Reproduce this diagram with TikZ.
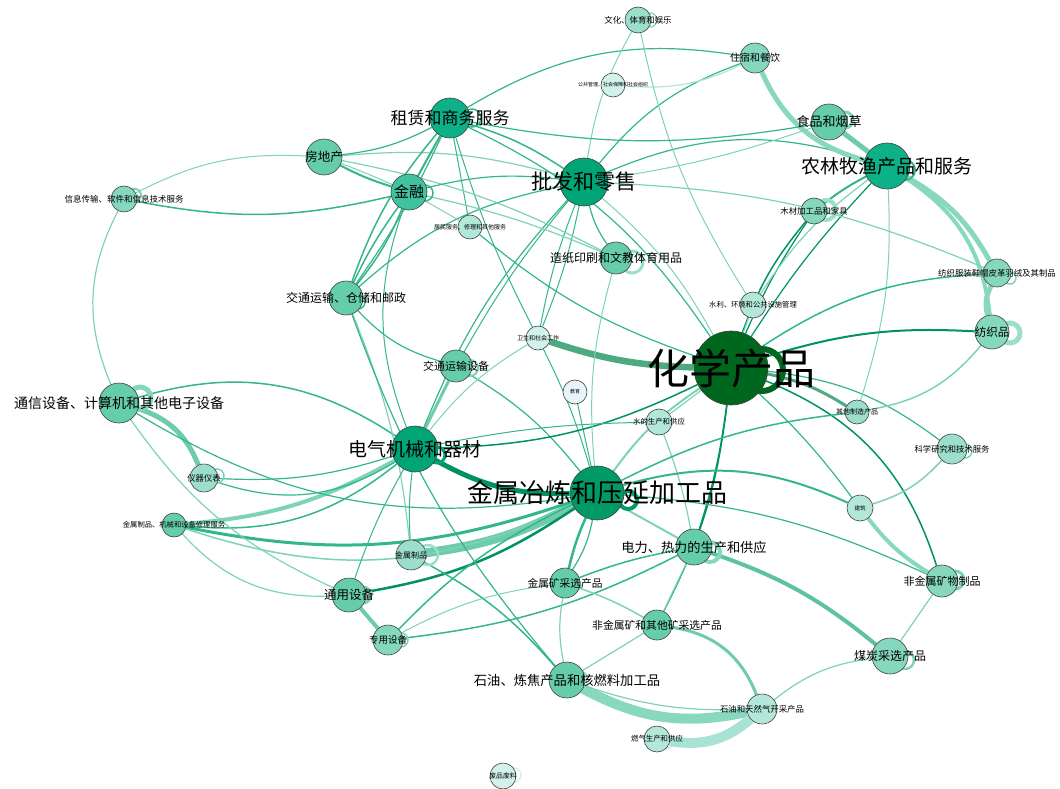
\documentclass[tikz,border=0pt]{standalone}
\usepackage{fontspec}
\setmainfont{Noto Sans CJK SC}
\usetikzlibrary{backgrounds}

% node fills
\definecolor{c0}{HTML}{00681E}
\definecolor{c1}{HTML}{009B64}
\definecolor{c2}{HTML}{00A576}
\definecolor{c3}{HTML}{0CB188}
\definecolor{c4}{HTML}{40C29E}
\definecolor{c5}{HTML}{66CDAA}
\definecolor{c6}{HTML}{85D7BE}
\definecolor{c7}{HTML}{9BDECC}
\definecolor{c8}{HTML}{B2E7DA}
\definecolor{c9}{HTML}{D2F1EA}
\definecolor{ce}{HTML}{E8F4FA}
% link colours
\definecolor{dk}{HTML}{00935F}
\definecolor{md}{HTML}{33B78A}
\definecolor{lt}{HTML}{7CD3B8}
\definecolor{pl}{HTML}{B0E5D6}
\definecolor{bnA}{HTML}{4DAA80}
\definecolor{bnB}{HTML}{6ECCAB}
\definecolor{bnC}{HTML}{88D8BF}
\definecolor{bnD}{HTML}{A8E2D4}
\definecolor{bnE}{HTML}{5CC39E}

\def\sectors{
  hx/731/368/74/c0/42/化学产品,
  ye/597/493/54/c1/26/金属冶炼和压延加工品,
  pf/584/182/48/c2/21/批发和零售,
  nl/887/166/46/c3/19/农林牧渔产品和服务,
  dq/415/449/46/c2/19/电气机械和器材,
  zl/450/118/40/c3/17/租赁和商务服务,
  jr/409/192/36/c4/15/金融,
  fd/324/157/36/c5/12.5/房地产,
  xx/124/199/26/c6/8.5/信息传输、软件和信息技术服务,
  jt/346/298/34/c5/12/交通运输、仓储和邮政,
  jm/470/227/24/c8/6/居民服务、修理和其他服务,
  zz/616/258/32/c5/12/造纸印刷和文教体育用品,
  wh/638/20/26/c7/8.4/文化、体育和娱乐,
  gg/613/85/24/c9/5/公共管理、社会保障和社会组织,
  zs/755/58/30/c6/10/住宿和餐饮,
  sp/829/122/36/c5/13/食品和烟草,
  mc/814/211/26/c6/8.4/木材加工品和家具,
  fz/997/273/28/c6/8.4/纺织服装鞋帽皮革羽绒及其制品,
  fp/992/332/34/c6/11.5/纺织品,
  sl/753/305/26/c8/7.3/水利、环境和公共设施管理,
  ws/538/338/24/c9/6/卫生和社会工作,
  jy/575/392/24/ce/5/教育,
  ys/456/366/32/c5/11/交通运输设备,
  tx/119/403/40/c5/14/通信设备、计算机和其他电子设备,
  yq/204/478/28/c7/8.3/仪器仪表,
  xl/174/525/24/c5/7.3/金属制品、机械和设备修理服务,
  jz/411/555/30/c7/8/金属制品,
  ty/349/595/34/c5/12.5/通用设备,
  zy/388/640/30/c6/9.5/专用设备,
  ss/659/422/26/c8/7.4/水的生产和供应,
  qt/857/412/24/c7/7/其他制造产品,
  kx/952/449/30/c7/8.3/科学研究和技术服务,
  jzh/860/508/26/c8/5.5/建筑,
  dl/694/547/36/c5/13.2/电力、热力的生产和供应,
  fj/942/581/32/c6/11/非金属矿物制品,
  jk/565/583/30/c5/10.7/金属矿采选产品,
  fk/657/625/30/c5/10.8/非金属矿和其他矿采选产品,
  mt/890/656/36/c6/12/煤炭采选产品,
  sy/567/680/36/c5/13.3/石油、炼焦产品和核燃料加工品,
  tq/762/709/30/c8/8.4/石油和天然气开采产品,
  rq/657/739/26/c8/7.4/燃气生产和供应,
  fpl/503/776/26/c9/6.8/废品废料}

\begin{document}
\begin{tikzpicture}[x=1pt,y=-1pt,
  sector/.style={circle,draw=black!75,line width=0.6pt,inner sep=0pt,minimum size=#1pt},
  tag/.style={font=\fontsize{#1}{#1}\selectfont,inner sep=0pt,text=black}]
  \useasboundingbox (0,0) rectangle (1060,789);

  % sectors
  \foreach \n/\x/\y/\d/\c/\s/\t in \sectors
    \node[sector=\d,fill=\c] (\n) at (\x,\y) {};

  \begin{pgfonlayer}{background}
  \fill[white] (0,0) rectangle (1060,789);
  % flows between sectors: from/to/colour/width/bend
  \foreach \a/\b/\c/\w/\k in {
    ws/hx/bnA/6.5/-8, dq/ye/dk/5/-15, jz/ye/bnB/9/-10,
    xl/dq/lt/4/-12, xl/dq/md/1.5/-22, xl/ye/md/3/-15, xl/ye/lt/1.5/-22,
    xl/ty/lt/1.2/-25, tx/yq/bnB/5/25, tx/dq/md/1.5/25, tx/ye/md/1.2/-20,
    xx/tx/lt/1.2/-25, yq/dq/md/1.2/-10, yq/dq/md/1.2/-25, zy/ty/bnB/4/0,
    ty/ye/dk/2.5/-12, jt/jz/lt/1.2/8, tx/ty/lt/1.2/-15, ty/dq/md/1/5,
    dq/jz/md/1/-5, jt/sy/md/1.2/-10, ys/ye/md/1.2/10, dq/ys/bnB/3/0,
    jt/ys/md/1.2/-15, pf/zz/md/1.2/-10, pf/ws/md/1/-5, pf/ws/md/1/5,
    pf/zl/md/1.5/-8, pf/jt/md/1.2/-15, pf/fd/lt/1.2/-10, pf/nl/md/1.2/20,
    pf/dq/md/1.2/-10, pf/ys/md/1/-5, pf/hx/lt/1/10, xx/fd/lt/1/15,
    xx/jr/md/1.5/-12, zl/jr/md/2/0, zl/fd/md/1.2/10, zl/jt/md/1.5/-10,
    zl/jt/md/1.2/5, zl/jm/md/1/0, zl/hx/md/1.2/15, zl/ws/md/1/-5,
    fd/jr/md/2/-5, fd/jm/lt/1/5, fd/zz/lt/1.2/8, jr/jt/md/1.5/-5,
    jr/jt/md/1.5/8, jr/zz/lt/1.2/5, jr/pf/md/1.2/10, jr/dq/md/1/-20,
    jm/hx/md/1.2/-10, ws/ye/md/1/5, ws/dq/lt/1/-10, jy/ye/md/1/0,
    ss/dl/lt/1.2/5, ss/hx/lt/1.2/0, hx/dl/dk/1.5/5, hx/fk/dk/1.2/10,
    ye/hx/lt/2/10, dq/hx/dk/1.5/-12, dq/ss/md/1/5, ye/jzh/md/2/20,
    ye/dl/lt/2/0, ye/jk/md/2.5/-5, ye/jk/md/1.2/10, ye/fj/md/1.2/10,
    ye/zy/md/1.5/-10, zy/jk/lt/1/10, zy/dl/md/1.5/-10, jk/fk/lt/1.5/5,
    jk/dl/md/1.5/5, jk/sy/lt/1.2/-10, fk/tq/bnB/3/30, fk/sy/lt/1.2/0,
    sy/tq/bnC/10/-20, sy/tq/lt/1.2/-10, tq/rq/bnD/10/25, jz/sy/md/1.5/10,
    mt/fj/lt/1.2/0, tq/mt/lt/1.2/15, dl/mt/bnE/4/10, dl/fk/lt/1.2/0,
    hx/fj/dk/1.5/25, hx/kx/md/1.2/15, kx/jzh/lt/1.5/15, jzh/fj/bnC/4/-10,
    hx/jzh/md/1.2/5, qt/fp/lt/1.5/-20, nl/qt/lt/1/10, ye/qt/md/1.5/10,
    hx/qt/bnA/3/10, mc/nl/md/2/5, mc/hx/dk/1.5/-10, mc/hx/dk/1.2/-5,
    sl/hx/lt/1.2/0, sl/nl/lt/1.2/10, hx/fz/md/1.5/15, hx/fp/dk/2/10,
    hx/nl/dk/1.2/5, nl/fz/bnC/5/15, nl/fp/bnC/4/25, fz/fp/bnC/5/-20,
    zs/nl/bnC/5/-25, sp/nl/bnB/5/0, zs/pf/md/1.2/-15, zs/zl/md/1.2/-20,
    gg/zs/pl/1.2/-15, wh/pf/lt/1/-10, wh/sl/lt/1/-10, sp/zl/md/1.2/10,
    sp/pf/lt/1/5, pf/fz/lt/1.2/10, zz/ye/lt/1/-10}
    \draw[draw=\c,line width=\w pt] (\a) to[bend left=\k] (\b);
  % self loops: sector/dx/dy/radius/width/colour
  \foreach \n/\dx/\dy/\r/\w/\c in {
    hx/31/2/21/6/c0, ye/31/7/9/4/c1, dq/22/6/8/3/c2, zl/22/0/9/1.5/md,
    jr/16/1/8/1.5/md, jt/12/4/7/1.5/md, xx/11/-4/6/2/lt, wh/12/0/7/1.2/lt,
    zz/16/4/11/3/c7, sp/16/-2/8/3/lt, mc/12/-1/10/4/c7, nl/18/4/10/2/md,
    fz/13/5/6/1.5/lt, fp/18/1/10/5/c7, kx/13/2/7/1.5/lt, fj/13/-1/9/3/lt,
    mt/15/4/9/2.5/lt, sy/13/-2/7/1.2/lt, rq/11/3/6/1/pl, fpl/11/-1/7/1.5/c9,
    tx/21/-5/11/5/c6, yq/13/-2/7/1.5/lt, jz/17/0/10/2.5/c7, ty/14/0/8/3/lt,
    zy/13/0/7/1.5/lt, dl/16/5/10/4/c6, ys/14/2/8/2/lt, jk/10/2/6/1/lt}
    \draw[draw=\c,line width=\w pt] ([shift={(\dx,\dy)}]\n.center) circle (\r);
  \end{pgfonlayer}

  % sector names on top
  \foreach \n/\x/\y/\d/\c/\s/\t in \sectors
    \node[tag=\s] (\n-name) at (\n) {\t};
\end{tikzpicture}
\end{document}
